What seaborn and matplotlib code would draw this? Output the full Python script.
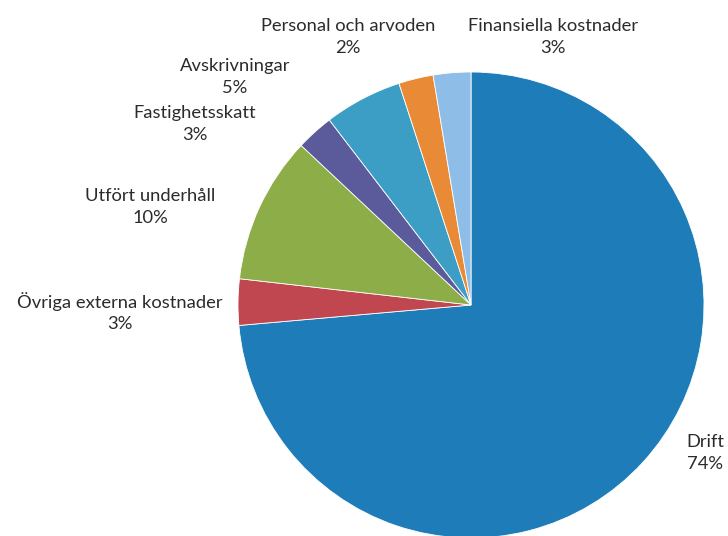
import matplotlib
matplotlib.use("Agg")
import matplotlib.pyplot as plt
import seaborn as sns

sns.set_theme(style="white")
plt.rcParams['font.family'] = ['Lato', 'DejaVu Sans']

categories = ["Drift", "Övriga externa kostnader", "Utfört underhåll",
              "Fastighetsskatt", "Avskrivningar", "Personal och arvoden",
              "Finansiella kostnader"]
values = [73.6, 3.2, 10.2, 2.6, 5.4, 2.4, 2.6]
pct_labels = ["74%", "3%", "10%", "3%", "5%", "2%", "3%"]
colors = ["#1E7DB8", "#C0474F", "#8CAD48", "#5B5A9A", "#3C9EC5", "#E98A36", "#8EBDE8"]

# label anchor positions in pixels (center of text block), style only
label_px = [(705, 453), (120, 312), (150, 207), (195, 124), (235, 77), (348, 37), (553, 37)]

W, H = 728, 536
cx, cy, R = 471, 305, 233

fig = plt.figure(figsize=(W / 100, H / 100), dpi=100)
ax = fig.add_axes([0, 0, 1, 1])
ax.pie(values, colors=colors, startangle=90, counterclock=False,
       wedgeprops=dict(edgecolor="white", linewidth=0.6))
ax.set_aspect("auto")
ax.set_xlim((0 - cx) / R, (W - cx) / R)
ax.set_ylim((cy - H) / R, (cy - 0) / R)
ax.axis("off")

for cat, pct, (px, py) in zip(categories, pct_labels, label_px):
    x = (px - cx) / R
    y = (cy - py) / R
    ax.text(x, y, f"{cat}\n{pct}", ha="center", va="center", fontsize=13.2,
            color="#2b2b2b", linespacing=1.4, multialignment="center")

fig.savefig("out.png", dpi=100, facecolor="white")
